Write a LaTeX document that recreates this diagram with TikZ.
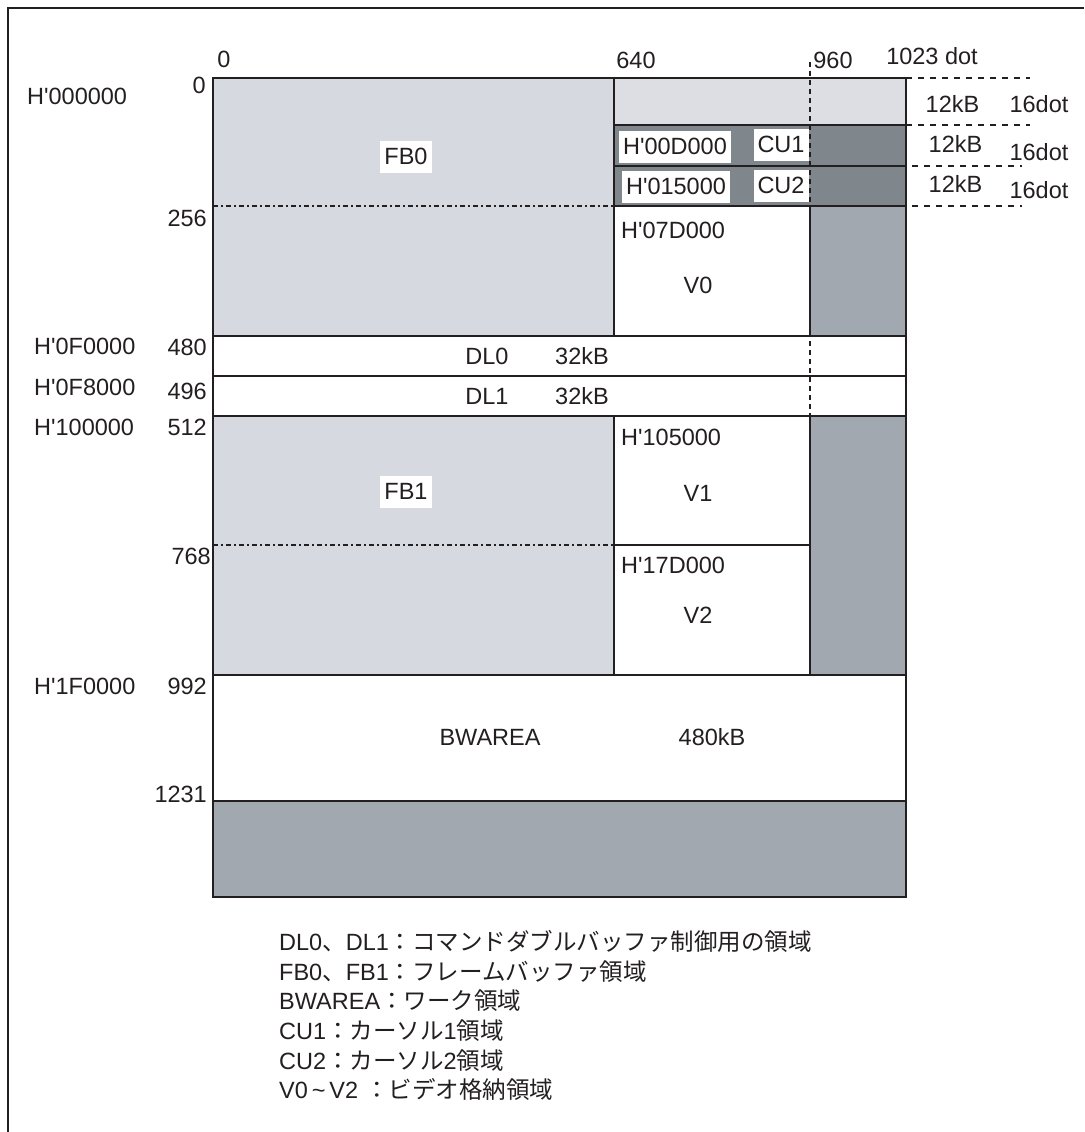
\documentclass[tikz,border=0pt]{standalone}
\usepackage{fontspec}
\setmainfont{Liberation Sans}[Ligatures=TeXOff]
\newfontfamily\jp{Noto Sans CJK JP}
\definecolor{ink}{HTML}{231F20}
\definecolor{fblight}{HTML}{D6D9E0}
\definecolor{toplight}{HTML}{DDDEE3}
\definecolor{cudark}{HTML}{7F868C}
\definecolor{midgray}{HTML}{A2A8AF}
\begin{document}
\begin{tikzpicture}[x=1pt,y=-1pt,
  lbl/.style={font=\fontsize{23.5}{28}\selectfont, inner sep=0pt, text height=17pt, text depth=0pt, text=ink},
  wbox/.style={lbl, fill=white, inner xsep=4pt, inner ysep=6pt, text depth=3pt},
  area/.style={draw=ink, line width=2.3pt},
  dashdot/.style={draw=ink, line width=1.8pt, dash pattern=on 5pt off 3pt on 2pt off 3pt},
  dashline/.style={draw=ink, line width=1.8pt, dash pattern=on 6pt off 6pt},
  vdot/.style={draw=ink, line width=2pt, dash pattern=on 5pt off 4pt}]
\path[use as bounding box] (0,0) rectangle (1084,1132);
% frame
\draw[ink, line width=2.5pt] (8,1132) -- (8,8) -- (1084,8);
% fills
\fill[fblight] (213,78) rectangle (614,336);
\fill[toplight] (614,78) rectangle (906,125);
\fill[cudark] (614,125) rectangle (906,206);
\fill[white] (614,206) rectangle (810,336);
\fill[midgray] (810,206) rectangle (906,336);
\fill[white] (213,336) rectangle (906,416);
\fill[fblight] (213,416) rectangle (614,675);
\fill[white] (614,416) rectangle (810,675);
\fill[midgray] (810,416) rectangle (906,675);
\fill[white] (213,675) rectangle (906,801);
\fill[midgray] (213,801) rectangle (906,897);
% dashed guide lines
\draw[dashdot] (213,206) -- (614,206);
\draw[dashdot] (213,545) -- (614,545);
\draw[vdot] (810,62) -- (810,416);
\draw[dashline] (906,78) -- (1030,78);
\draw[dashline] (906,125) -- (1030,125);
\draw[dashline] (912,166) -- (1022,166);
\draw[dashline] (912,206) -- (1022,206);
% area outlines
\draw[area] (213,78) rectangle (906,897);
\draw[area] (614,78) rectangle (906,336);
\draw[area] (614,125) -- (906,125);
\draw[area] (614,166) -- (906,166);
\draw[area] (614,206) -- (906,206);
\draw[area] (810,206) -- (810,336);
\draw[area] (213,336) -- (906,336);
\draw[area] (213,376) -- (906,376);
\draw[area] (213,416) -- (906,416);
\draw[area] (614,416) -- (614,675);
\draw[area] (810,416) -- (810,675);
\draw[area] (614,545) -- (810,545);
\draw[area] (213,675) -- (906,675);
\draw[area] (213,801) -- (906,801);
% column labels
\node[lbl] (c0) at (224,58.5) {0};
\node[lbl] (c640) at (636,59.5) {640};
\node[lbl] (c960) at (833,59.5) {960};
\node[lbl] (c1023) at (932,56) {1023 dot};
% row labels
\node[lbl, anchor=east] (r0) at (206,85) {0};
\node[lbl, anchor=east] (r256) at (207,218) {256};
\node[lbl, anchor=east] (r480) at (207,347) {480};
\node[lbl, anchor=east] (r496) at (207,391) {496};
\node[lbl, anchor=east] (r512) at (207,427) {512};
\node[lbl, anchor=east] (r768) at (211,556) {768};
\node[lbl, anchor=east] (r992) at (207,686) {992};
\node[lbl, anchor=east] (r1231) at (207,794) {1231};
% address labels
\node[lbl, anchor=west] (h0) at (27,96) {H'000000};
\node[lbl, anchor=west] (h1) at (34,345.5) {H'0F0000};
\node[lbl, anchor=west] (h2) at (34,386.5) {H'0F8000};
\node[lbl, anchor=west] (h3) at (34,426.5) {H'100000};
\node[lbl, anchor=west] (h4) at (34,686) {H'1F0000};
% right side labels
\node[lbl] (k1) at (952.5,103.5) {12kB};
\node[lbl] (d1) at (1039,103.5) {16dot};
\node[lbl] (k2) at (955.5,143.5) {12kB};
\node[lbl] (d2) at (1039,151.5) {16dot};
\node[lbl] (k3) at (955.5,183.5) {12kB};
\node[lbl] (d3) at (1039,190) {16dot};
% inner labels
\node[wbox] (fb0) at (406,157) {FB0};
\node[wbox] (fb1) at (406,492) {FB1};
\node[wbox] (a1) at (675,147) {H'00D000};
\node[wbox] (cu1) at (781,145) {CU1};
\node[wbox] (a2) at (676,187) {H'015000};
\node[wbox] (cu2) at (781,186) {CU2};
\node[lbl, anchor=west] (a3) at (621,229.5) {H'07D000};
\node[lbl] (v0) at (698,284.5) {V0};
\node[lbl] (dl0) at (487,356) {DL0};
\node[lbl] (s0) at (582,356) {32kB};
\node[lbl] (dl1) at (487,396) {DL1};
\node[lbl] (s1) at (582,396) {32kB};
\node[lbl, anchor=west] (a4) at (621,437) {H'105000};
\node[lbl] (v1) at (698,493) {V1};
\node[lbl, anchor=west] (a5) at (621,565) {H'17D000};
\node[lbl] (v2) at (698,615) {V2};
\node[lbl] (bw) at (490,737) {BWAREA};
\node[lbl] (bws) at (712,737) {480kB};
% legend
\node[lbl, anchor=west] (l1) at (279,942) {DL0{\jp 、}DL1{\jp ：コマンドダブルバッファ制御用の領域}};
\node[lbl, anchor=west] (l2) at (279,971.5) {FB0{\jp 、}FB1{\jp ：フレームバッファ領域}};
\node[lbl, anchor=west] (l3) at (279,1001) {BWAREA{\jp ：ワーク領域}};
\node[lbl, anchor=west] (l4) at (279,1031) {CU1{\jp ：カーソル}1{\jp 領域}};
\node[lbl, anchor=west] (l5) at (279,1060.5) {CU2{\jp ：カーソル}2{\jp 領域}};
\node[lbl, anchor=west] (l6) at (279,1090) {V0\,\textasciitilde\,V2\hspace{0.3em}{\jp ：ビデオ格納領域}};
\end{tikzpicture}
\end{document}
